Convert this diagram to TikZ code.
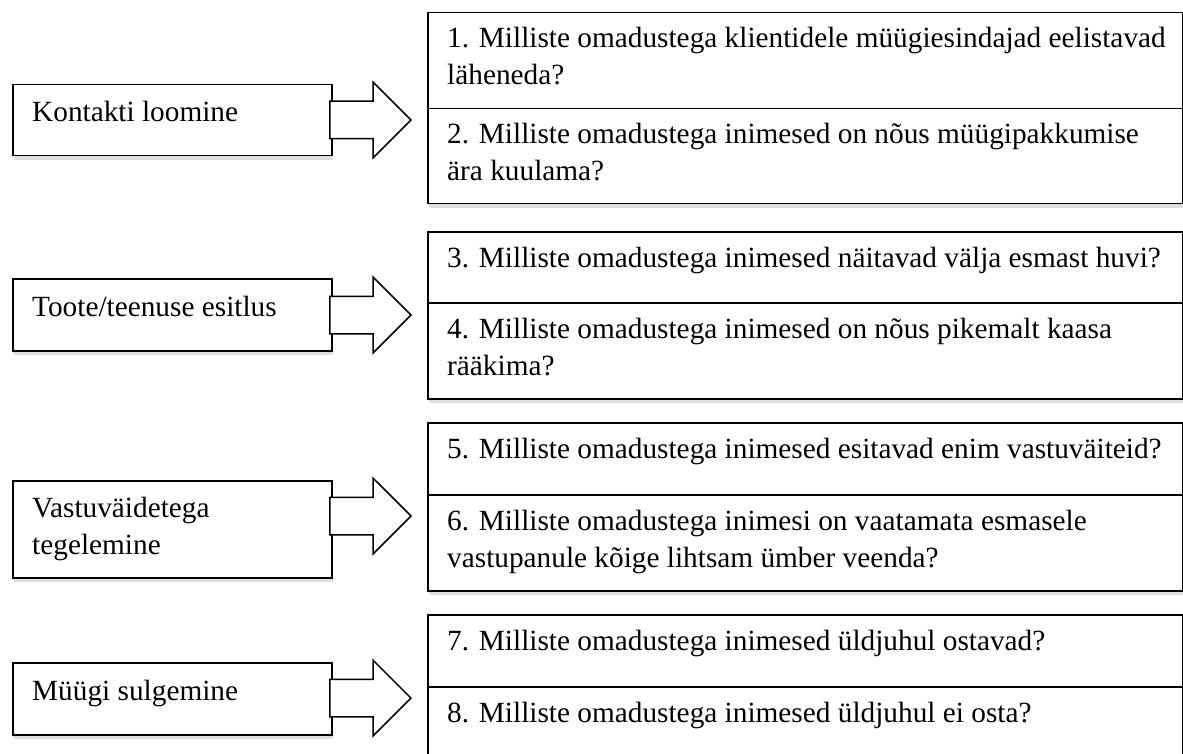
\documentclass[tikz,border=0pt]{standalone}
\usepackage{fontspec}
\setmainfont{Liberation Serif}
\usepackage{tikz}
\usetikzlibrary{shapes.arrows, shadows, positioning}

\begin{document}
\begin{tikzpicture}[x=1pt, y=-1pt]
	% Styles
	\tikzstyle{stage} = [draw, fill=white, rectangle, line width=1.5pt, anchor=north west, minimum width=319pt, inner sep=0pt, drop shadow={shadow xshift=1pt, shadow yshift=-4pt, opacity=0.25}]
	\tikzstyle{cell} = [draw, fill=white, rectangle, line width=1.5pt, anchor=north west, minimum width=755pt, inner sep=0pt, drop shadow={shadow xshift=1pt, shadow yshift=-4pt, opacity=0.25}]
	\tikzstyle{txt} = [anchor=base west, align=left, inner sep=0pt, font=\fontsize{29.3}{37}\selectfont]
	\tikzstyle{blockarrow} = [draw, fill=white, line width=1.5pt, single arrow, single arrow head extend=19pt, minimum height=81pt, inner xsep=0pt, inner ysep=18pt, anchor=tip]

	\useasboundingbox (0,0) rectangle (1183,754);
	\clip (0,0) rectangle (1183,754);

	% Stages
	\node (s1) [stage, minimum height=71pt] at (12,84) {};
	\node (s2) [stage, minimum height=72pt] at (12,278) {};
	\node (s3) [stage, minimum height=97pt] at (12,480) {};
	\node (s4) [stage, minimum height=72pt] at (12,662) {};

	\node (s1t) [txt] at ([shift={(20,38)}]s1.north west) {Kontakti loomine};
	\node (s2t) [txt] at ([shift={(20,38)}]s2.north west) {Toote/teenuse esitlus};
	\node (s3t) [txt] at ([shift={(20,74)}]s3.north west) {Vastuväidetega\\tegelemine};
	\node (s4t) [txt] at ([shift={(20,38)}]s4.north west) {Müügi sulgemine};

	% Questions
	\node (q1) [cell, minimum height=96pt] at (427,12) {};
	\node (q2) [cell, minimum height=95pt] at (427,108) {};
	\node (q3) [cell, minimum height=71pt] at (427,231) {};
	\node (q4) [cell, minimum height=96pt] at (427,302) {};
	\node (q5) [cell, minimum height=72pt] at (427,422) {};
	\node (q6) [cell, minimum height=96pt] at (427,494) {};
	\node (q7) [cell, minimum height=72pt] at (427,614) {};
	\node (q8) [cell, minimum height=96pt] at (427,686) {};

	% (two-line texts sit on their last line)
	\node (q1t) [txt] at ([shift={(20,73)}]q1.north west) {1. Milliste omadustega klientidele müügiesindajad eelistavad\\läheneda?};
	\node (q2t) [txt] at ([shift={(20,73)}]q2.north west) {2. Milliste omadustega inimesed on nõus müügipakkumise\\ära kuulama?};
	\node (q3t) [txt] at ([shift={(20,36)}]q3.north west) {3. Milliste omadustega inimesed näitavad välja esmast huvi?};
	\node (q4t) [txt] at ([shift={(20,73)}]q4.north west) {4. Milliste omadustega inimesed on nõus pikemalt kaasa\\rääkima?};
	\node (q5t) [txt] at ([shift={(20,36)}]q5.north west) {5. Milliste omadustega inimesed esitavad enim vastuväiteid?};
	\node (q6t) [txt] at ([shift={(20,73)}]q6.north west) {6. Milliste omadustega inimesi on vaatamata esmasele\\vastupanule kõige lihtsam ümber veenda?};
	\node (q7t) [txt] at ([shift={(20,36)}]q7.north west) {7. Milliste omadustega inimesed üldjuhul ostavad?};
	\node (q8t) [txt] at ([shift={(20,36)}]q8.north west) {8. Milliste omadustega inimesed üldjuhul ei osta?};

	% Arrows
	\node (a1) [blockarrow] at (412,120) {};
	\node (a2) [blockarrow] at (412,315) {};
	\node (a3) [blockarrow] at (412,516) {};
	\node (a4) [blockarrow] at (412,698) {};
\end{tikzpicture}
\end{document}
